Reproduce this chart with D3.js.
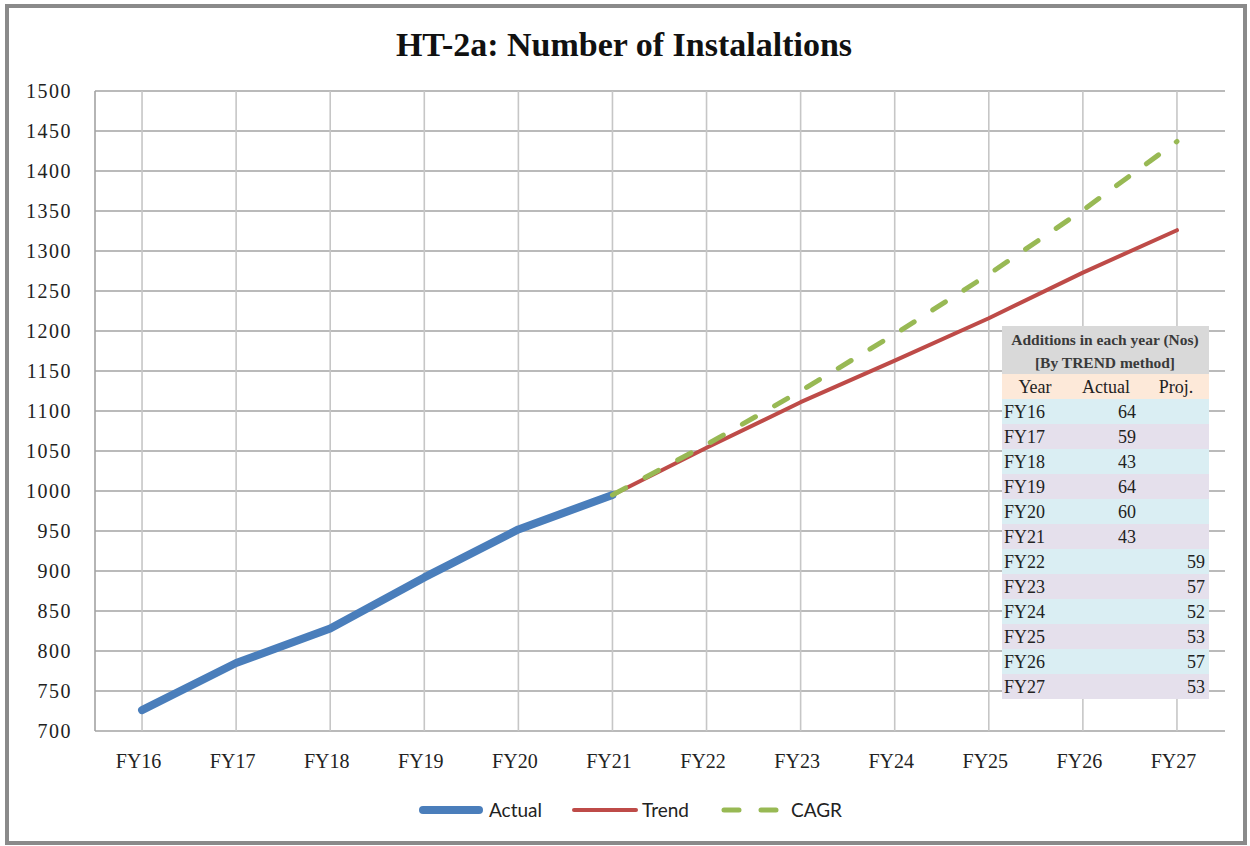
<!DOCTYPE html>
<html>
<head>
<meta charset="utf-8">
<script src="https://cdn.jsdelivr.net/npm/d3@7"></script>
<style>
  body { margin: 0; background: #fff; }
  svg { display: block; }
</style>
</head>
<body>
<script>
// data
var years = ["FY16", "FY17", "FY18", "FY19", "FY20", "FY21", "FY22", "FY23", "FY24", "FY25", "FY26", "FY27"];
var actual = [726, 785, 828, 892, 952, 995, null, null, null, null, null, null];
var trend = [null, null, null, null, null, 995, 1054, 1111, 1163, 1216, 1273, 1326];
var cagr = [null, null, null, null, null, 995, 1058, 1125, 1196, 1271, 1351, 1437];
var addActual = [64, 59, 43, 64, 60, 43, null, null, null, null, null, null];
var addProj = [null, null, null, null, null, null, 59, 57, 52, 53, 57, 53];
var yTicks = [700, 750, 800, 850, 900, 950, 1000, 1050, 1100, 1150, 1200, 1250, 1300, 1350, 1400, 1450, 1500];

var w = 1250;
var h = 846;
// plot area (window.top is taken, so no "top")
var plotL = 95, plotR = 1224, plotT = 91, plotB = 731;

var svg = d3.select("body")
            .append("svg")
            .attr("width", w)
            .attr("height", h);

// outer frame
svg.append("rect")
   .attr("x", 7).attr("y", 6)
   .attr("width", 1238).attr("height", 837)
   .attr("fill", "#fff")
   .attr("stroke", "#8a8a8a")
   .attr("stroke-width", 4);

svg.append("text")
   .attr("x", 624).attr("y", 56)
   .attr("text-anchor", "middle")
   .style("font-family", "'Liberation Serif', serif")
   .style("font-weight", "bold")
   .style("font-size", "34px")
   .attr("fill", "#111")
   .text("HT-2a: Number of Instalaltions");

var xScale = d3.scalePoint()
               .domain(years)
               .range([plotL, plotR])
               .padding(0.5);

var yScale = d3.scaleLinear()
               .domain([700, 1500])
               .range([plotB, plotT]);

// horizontal grid
svg.append("g")
   .selectAll("line")
   .data(yTicks)
   .enter()
   .append("line")
   .attr("x1", plotL).attr("x2", 1225)
   .attr("y1", d => yScale(d)).attr("y2", d => yScale(d))
   .attr("stroke", "#a3a3a3")
   .attr("stroke-width", 1.6);

// vertical grid
svg.append("g")
   .selectAll("line")
   .data(years)
   .enter()
   .append("line")
   .attr("x1", d => xScale(d)).attr("x2", d => xScale(d))
   .attr("y1", plotT).attr("y2", plotB)
   .attr("stroke", "#c6c6c6")
   .attr("stroke-width", 1.6);

svg.append("line")
   .attr("x1", plotL).attr("x2", plotL)
   .attr("y1", plotT).attr("y2", plotB)
   .attr("stroke", "#a3a3a3")
   .attr("stroke-width", 1.6);

// y axis labels
var yAxis = d3.axisLeft(yScale).tickValues(yTicks).tickFormat(d3.format("d")).tickSize(0).tickPadding(23);
var gy = svg.append("g")
   .attr("transform", "translate(" + plotL + ",0)")
   .call(yAxis);
gy.select(".domain").remove();
gy.selectAll("text")
  .style("font-family", "'Liberation Serif', serif")
  .style("font-size", "20px")
  .style("letter-spacing", "1.5px")
  .attr("fill", "#222");

// x axis labels
var xAxis = d3.axisBottom(xScale).tickSize(0).tickPadding(23);
var gx = svg.append("g")
   .attr("transform", "translate(-4," + plotB + ")")
   .call(xAxis);
gx.select(".domain").remove();
gx.selectAll("text")
  .style("font-family", "'Liberation Serif', serif")
  .style("font-size", "20px")
  .attr("fill", "#222");

var line = d3.line()
             .defined(d => d.v != null)
             .x(d => xScale(d.year))
             .y(d => yScale(d.v));

function pts(arr) {
  return years.map(function(y, i) { return {year: y, v: arr[i]}; });
}

svg.append("path")
   .attr("d", line(pts(actual)))
   .attr("fill", "none")
   .attr("stroke", "#4a7ebb")
   .attr("stroke-width", 8)
   .attr("stroke-linecap", "round")
   .attr("stroke-linejoin", "round");

svg.append("path")
   .attr("d", line(pts(trend)))
   .attr("fill", "none")
   .attr("stroke", "#be4b48")
   .attr("stroke-width", 4)
   .attr("stroke-linecap", "round")
   .attr("stroke-linejoin", "round");

svg.append("path")
   .attr("d", line(pts(cagr)))
   .attr("fill", "none")
   .attr("stroke", "#98b954")
   .attr("stroke-width", 5)
   .attr("stroke-dasharray", "15,22")
   .attr("stroke-linecap", "round")
   .attr("stroke-linejoin", "round");

// additions table
var tx = 1002, tw = 207, rowH = 25, rowTop = 399;
var tbl = svg.append("g");
tbl.append("rect")
   .attr("x", tx).attr("y", 326).attr("width", tw).attr("height", 48)
   .attr("fill", "#d9d9d9");
tbl.append("rect")
   .attr("x", tx).attr("y", 374).attr("width", tw).attr("height", 25)
   .attr("fill", "#fde9d9");

var head = ["Additions in each year (Nos)", "[By TREND method]"];
tbl.selectAll(".head")
   .data(head)
   .enter()
   .append("text")
   .attr("class", "head")
   .attr("x", 1105)
   .attr("y", (d, i) => 345 + i * 23)
   .attr("text-anchor", "middle")
   .style("font-family", "'Liberation Serif', serif")
   .style("font-weight", "bold")
   .style("font-size", "15.5px")
   .attr("fill", "#3a3a3a")
   .text(d => d);

var cols = [["Year", 1035], ["Actual", 1106], ["Proj.", 1176]];
tbl.selectAll(".colh")
   .data(cols)
   .enter()
   .append("text")
   .attr("class", "colh")
   .attr("x", d => d[1])
   .attr("y", 393)
   .attr("text-anchor", "middle")
   .style("font-family", "'Liberation Serif', serif")
   .style("font-size", "18px")
   .attr("fill", "#222")
   .text(d => d[0]);

var rows = tbl.selectAll(".row")
   .data(years)
   .enter()
   .append("g")
   .attr("class", "row")
   .attr("transform", (d, i) => "translate(0," + (rowTop + i * rowH) + ")");

rows.append("rect")
    .attr("x", tx).attr("width", tw).attr("height", rowH)
    .attr("fill", (d, i) => i % 2 == 0 ? "#daeef3" : "#e5e0ec");

rows.append("text")
    .attr("x", 1004).attr("y", 19)
    .style("font-family", "'Liberation Serif', serif")
    .style("font-size", "18px")
    .attr("fill", "#222")
    .text(d => d);

rows.append("text")
    .attr("x", 1136).attr("y", 19)
    .attr("text-anchor", "end")
    .style("font-family", "'Liberation Serif', serif")
    .style("font-size", "18px")
    .attr("fill", "#222")
    .text((d, i) => addActual[i] == null ? "" : addActual[i]);

rows.append("text")
    .attr("x", 1205).attr("y", 19)
    .attr("text-anchor", "end")
    .style("font-family", "'Liberation Serif', serif")
    .style("font-size", "18px")
    .attr("fill", "#222")
    .text((d, i) => addProj[i] == null ? "" : addProj[i]);

// legend
var legend = [
  {name: "Actual", color: "#4a7ebb", width: 8, dash: null, x1: 423, x2: 479, tx: 489},
  {name: "Trend", color: "#be4b48", width: 4, dash: null, x1: 574, x2: 636, tx: 642},
  {name: "CAGR", color: "#98b954", width: 5, dash: "15,22", x1: 724, x2: 778, tx: 791}
];
var lg = svg.append("g");
lg.selectAll("line")
  .data(legend)
  .enter()
  .append("line")
  .attr("x1", d => d.x1).attr("x2", d => d.x2)
  .attr("y1", 810).attr("y2", 810)
  .attr("stroke", d => d.color)
  .attr("stroke-width", d => d.width)
  .attr("stroke-dasharray", d => d.dash)
  .attr("stroke-linecap", "round");
lg.selectAll("text")
  .data(legend)
  .enter()
  .append("text")
  .attr("x", d => d.tx).attr("y", 817)
  .style("font-family", "Lato, sans-serif")
  .style("font-size", "19px")
  .attr("fill", "#222")
  .text(d => d.name);
</script>
</body>
</html>
